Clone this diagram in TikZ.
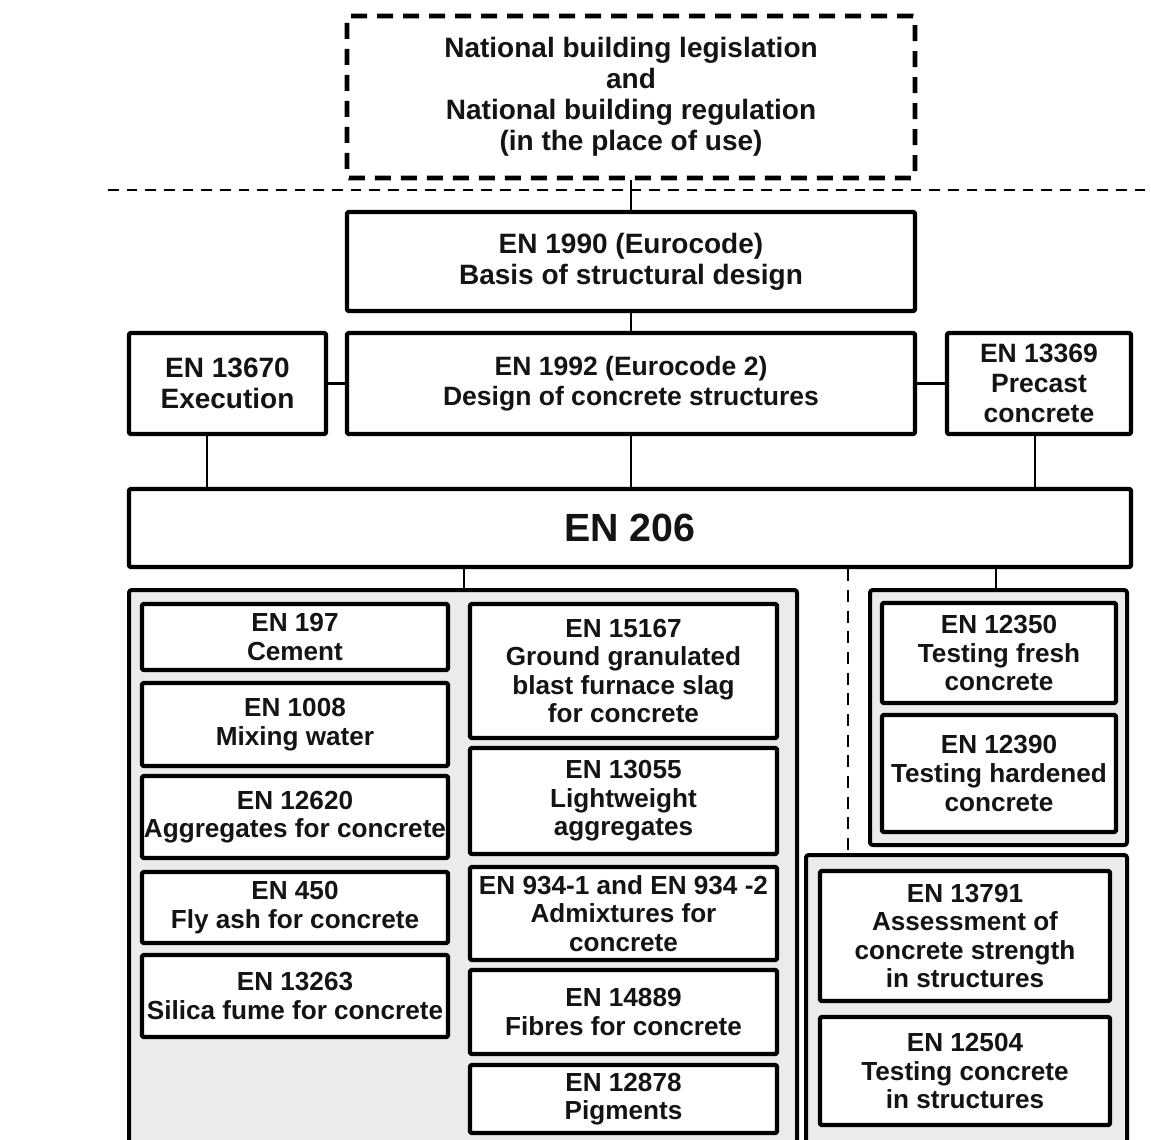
\documentclass[tikz,border=0pt]{standalone}
\usepackage{fontspec}
\setmainfont{Liberation Sans}
\definecolor{grpfill}{HTML}{EBEBEB}
\definecolor{ink}{HTML}{141414}
\newcommand\fontA{\fontsize{21}{23.25}\selectfont\bfseries}
\newcommand\fontB{\fontsize{19.6}{21.4}\selectfont\bfseries}
\newcommand\fontC{\fontsize{19.9}{22.5}\selectfont\bfseries}
\newcommand\fontD{\fontsize{29.5}{32}\selectfont\bfseries}
\newcommand\bxn[7]{\node[#1, minimum width={(#5-#3)*0.75pt}, minimum height={(#6-#4)*0.75pt}]
  (#2) at ({(#3+#5)/2},{(#4+#6)/2}) {#7};}
\tikzset{
  box/.style={draw=black, line width=3.3pt, fill=white, rounded corners=1.5pt, line join=round,
              inner sep=0pt, align=center, text=ink, font=\fontB},
  grp/.style={draw=black, line width=3pt, fill=grpfill, rounded corners=2pt, line join=round, inner sep=0pt},
  conn/.style={draw=black, line width=2.2pt},
  natbox/.style={box, line width=3.6pt, dash pattern=on 12pt off 7.5pt, font=\fontA},
}
\begin{document}
\begin{tikzpicture}[x=0.75pt,y=-0.75pt]
\useasboundingbox (0,0) rectangle (1151,1139);
\clip (0,0) rectangle (1151,1139);
\fill[white] (0,0) rectangle (1151,1139);

% separator
\draw[line width=2pt, dash pattern=on 8pt off 6pt] (108,190) -- (1160,190);

% top boxes
\bxn{natbox}{nat}{347}{16}{915}{178}{National building legislation\\and\\National building regulation\\(in the place of use)}
\bxn{box,font=\fontA}{en1990}{347}{212}{915}{311}{EN 1990 (Eurocode)\\Basis of structural design}
\bxn{box,font=\fontC}{en1992}{347}{333}{915}{434}{EN 1992 (Eurocode 2)\\Design of concrete structures}
\bxn{box,font=\fontA}{en13670}{129}{333}{326}{434}{EN 13670\\Execution}
\bxn{box,font=\fontC}{en13369}{947}{333}{1131}{434}{EN 13369\\Precast\\concrete}
\bxn{box,font=\fontD}{en206}{129}{489}{1131}{567}{EN 206}

% groups
\bxn{grp}{gL}{129}{590}{797}{1160}{}
\bxn{grp}{gRT}{870}{590}{1127}{845}{}
\bxn{grp}{gRB}{806}{855}{1127}{1160}{}

% left column
\bxn{box}{e197}{142}{604}{448}{670}{EN 197\\Cement}
\bxn{box}{e1008}{142}{683}{448}{766}{EN 1008\\Mixing water}
\bxn{box}{e12620}{142}{776}{448}{858}{EN 12620\\Aggregates for concrete}
\bxn{box}{e450}{142}{872}{448}{943}{EN 450\\Fly ash for concrete}
\bxn{box}{e13263}{142}{955}{448}{1037}{EN 13263\\Silica fume for concrete}
% right column
\bxn{box}{e15167}{470}{604}{777}{738}{EN 15167\\Ground granulated\\blast furnace slag\\for concrete}
\bxn{box}{e13055}{470}{748}{777}{854}{EN 13055\\Lightweight\\aggregates}
\bxn{box}{e934}{470}{867}{777}{960}{EN 934-1 and EN 934 -2\\Admixtures for\\concrete}
\bxn{box}{e14889}{470}{970}{777}{1054}{EN 14889\\Fibres for concrete}
\bxn{box}{e12878}{470}{1065}{777}{1133}{EN 12878\\Pigments}
% right groups
\bxn{box}{e12350}{882}{603}{1116}{703}{EN 12350\\Testing fresh\\concrete}
\bxn{box}{e12390}{882}{715}{1116}{832}{EN 12390\\Testing hardened\\concrete}
\bxn{box}{e13791}{820}{871}{1110}{1001}{EN 13791\\Assessment of\\concrete strength\\in structures}
\bxn{box}{e12504}{820}{1017}{1110}{1125}{EN 12504\\Testing concrete\\in structures}

% connectors
\coordinate (kA) at (207,460);
\coordinate (kB) at (1035,460);
\coordinate (kC) at (631,460);
\coordinate (kL) at (464,578);
\coordinate (kD) at (848,578);
\coordinate (kR) at (996,578);
\draw[conn] (kC |- nat.south) -- (kC |- en1990.north);
\draw[conn] (kC |- en1990.south) -- (kC |- en1992.north);
\draw[conn] (en13670.east) -- (en1992.west);
\draw[conn] (en1992.east) -- (en13369.west);
\draw[conn] (kA |- en13670.south) -- (kA |- en206.north);
\draw[conn] (kC |- en1992.south) -- (kC |- en206.north);
\draw[conn] (kB |- en13369.south) -- (kB |- en206.north);
\draw[conn] (kL |- en206.south) -- (kL |- gL.north);
\draw[conn] (kR |- en206.south) -- (kR |- gRT.north);
\draw[conn, dash pattern=on 9pt off 6.5pt] (kD |- en206.south) -- (kD |- gRB.north);
\end{tikzpicture}
\end{document}
